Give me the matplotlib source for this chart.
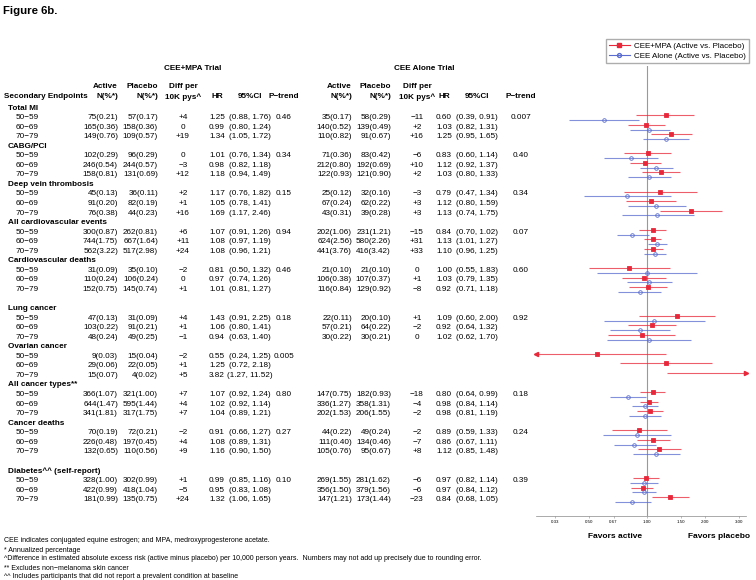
import matplotlib
matplotlib.use("Agg")
import matplotlib.pyplot as plt
import numpy as np
from matplotlib.lines import Line2D

plt.rcParams['font.family'] = ['Liberation Sans', 'DejaVu Sans']

# ---------------- data ----------------
endpoints = ["Total MI", "CABG/PCI", "Deep vein thrombosis", "All cardiovascular events",
             "Cardiovascular deaths", "Lung cancer", "Ovarian cancer", "All cancer types**",
             "Cancer deaths", "Diabetes^^ (self-report)"]
gap_before = [False, False, False, False, False, True, False, False, False, True]
age_groups = ["50\u221259", "60\u221269", "70\u221279"]

mpa_active = [["75(0.21)", "165(0.36)", "149(0.76)"], ["102(0.29)", "246(0.54)", "158(0.81)"],
              ["45(0.13)", "91(0.20)", "76(0.38)"], ["300(0.87)", "744(1.75)", "562(3.22)"],
              ["31(0.09)", "110(0.24)", "152(0.75)"], ["47(0.13)", "103(0.22)", "48(0.24)"],
              ["9(0.03)", "29(0.06)", "15(0.07)"], ["366(1.07)", "644(1.47)", "341(1.81)"],
              ["70(0.19)", "226(0.48)", "132(0.65)"], ["328(1.00)", "422(0.99)", "181(0.99)"]]
mpa_placebo = [["57(0.17)", "158(0.36)", "109(0.57)"], ["96(0.29)", "244(0.57)", "131(0.69)"],
               ["36(0.11)", "82(0.19)", "44(0.23)"], ["262(0.81)", "667(1.64)", "517(2.98)"],
               ["35(0.10)", "106(0.24)", "145(0.74)"], ["31(0.09)", "91(0.21)", "49(0.25)"],
               ["15(0.04)", "22(0.05)", "4(0.02)"], ["321(1.00)", "595(1.44)", "317(1.75)"],
               ["72(0.21)", "197(0.45)", "110(0.56)"], ["302(0.99)", "418(1.04)", "135(0.75)"]]
mpa_diff = [["+4", "0", "+19"], ["0", "\u22123", "+12"], ["+2", "+1", "+16"], ["+6", "+11", "+24"],
            ["\u22122", "0", "+1"], ["+4", "+1", "\u22121"], ["\u22122", "+1", "+5"], ["+7", "+4", "+7"],
            ["\u22122", "+4", "+9"], ["+1", "\u22125", "+24"]]
mpa_hr = [[1.25, 0.99, 1.34], [1.01, 0.98, 1.18], [1.17, 1.05, 1.69], [1.07, 1.08, 1.08],
          [0.81, 0.97, 1.01], [1.43, 1.06, 0.94], [0.55, 1.25, 3.82], [1.07, 1.02, 1.04],
          [0.91, 1.08, 1.16], [0.99, 0.95, 1.32]]
mpa_lo = [[0.88, 0.80, 1.05], [0.76, 0.82, 0.94], [0.76, 0.78, 1.17], [0.91, 0.97, 0.96],
          [0.50, 0.74, 0.81], [0.91, 0.80, 0.63], [0.24, 0.72, 1.27], [0.92, 0.92, 0.89],
          [0.66, 0.89, 0.90], [0.85, 0.83, 1.06]]
mpa_hi = [[1.76, 1.24, 1.72], [1.34, 1.18, 1.49], [1.82, 1.41, 2.46], [1.26, 1.19, 1.21],
          [1.32, 1.26, 1.27], [2.25, 1.41, 1.40], [1.25, 2.18, 11.52], [1.24, 1.14, 1.21],
          [1.27, 1.31, 1.50], [1.16, 1.08, 1.65]]
mpa_p = ["0.46", "0.34", "0.15", "0.94", "0.46", "0.18", "0.005", "0.80", "0.27", "0.10"]

cee_active = [["35(0.17)", "140(0.52)", "110(0.82)"], ["71(0.36)", "212(0.80)", "122(0.93)"],
              ["25(0.12)", "67(0.24)", "43(0.31)"], ["202(1.06)", "624(2.56)", "441(3.76)"],
              ["21(0.10)", "106(0.38)", "116(0.84)"], ["22(0.11)", "57(0.21)", "30(0.22)"],
              None, ["147(0.75)", "336(1.27)", "202(1.53)"],
              ["44(0.22)", "111(0.40)", "105(0.76)"], ["269(1.55)", "356(1.50)", "147(1.21)"]]
cee_placebo = [["58(0.29)", "139(0.49)", "91(0.67)"], ["83(0.42)", "192(0.69)", "121(0.90)"],
               ["32(0.16)", "62(0.22)", "39(0.28)"], ["231(1.21)", "580(2.26)", "416(3.42)"],
               ["21(0.10)", "107(0.37)", "129(0.92)"], ["20(0.10)", "64(0.22)", "30(0.21)"],
               None, ["182(0.93)", "358(1.31)", "206(1.55)"],
               ["49(0.24)", "134(0.46)", "95(0.67)"], ["281(1.62)", "379(1.56)", "173(1.44)"]]
cee_diff = [["\u221211", "+2", "+16"], ["\u22126", "+10", "+2"], ["\u22123", "+3", "+3"],
            ["\u221215", "+31", "+33"], ["0", "+1", "\u22128"], ["+1", "\u22122", "0"], None,
            ["\u221218", "\u22124", "\u22122"], ["\u22122", "\u22127", "+8"], ["\u22126", "\u22126", "\u221223"]]
cee_hr = [[0.60, 1.03, 1.25], [0.83, 1.12, 1.03], [0.79, 1.12, 1.13], [0.84, 1.13, 1.10],
          [1.00, 1.03, 0.92], [1.09, 0.92, 1.02], None, [0.80, 0.98, 0.98],
          [0.89, 0.86, 1.12], [0.97, 0.97, 0.84]]
cee_lo = [[0.39, 0.82, 0.95], [0.60, 0.92, 0.80], [0.47, 0.80, 0.74], [0.70, 1.01, 0.96],
          [0.55, 0.79, 0.71], [0.60, 0.64, 0.62], None, [0.64, 0.84, 0.81],
          [0.59, 0.67, 0.85], [0.82, 0.84, 0.68]]
cee_hi = [[0.91, 1.31, 1.65], [1.14, 1.37, 1.33], [1.34, 1.59, 1.75], [1.02, 1.27, 1.25],
          [1.83, 1.35, 1.18], [2.00, 1.32, 1.70], None, [0.99, 1.14, 1.19],
          [1.33, 1.11, 1.48], [1.14, 1.12, 1.05]]
cee_p = ["0.007", "0.40", "0.34", "0.07", "0.60", "0.92", "", "0.18", "0.24", "0.39"]

axis_ticks = [0.33, 0.50, 0.67, 1.00, 1.50, 2.00, 3.00]
axis_tick_labels = ["0.33", "0.50", "0.67", "1.00", "1.50", "2.00", "3.00"]

footnotes = ["CEE indicates conjugated equine estrogen; and MPA, medroxyprogesterone acetate.",
             "* Annualized percentage",
             "^Difference in estimated absolute excess risk (active minus placebo) per 10,000 person years.  Numbers may not add up precisely due to rounding error.",
             "** Excludes non\u2212melanoma skin cancer",
             "^^ Includes participants that did not report a prevalent condition at baseline"]

# ---------------- layout ----------------
W, H = 756, 580
fig = plt.figure(figsize=(W / 100, H / 100), dpi=100)
tax = fig.add_axes([0, 0, 1, 1])
tax.set_xlim(0, W)
tax.set_ylim(H, 0)
tax.axis('off')

FS = 5.85
RED = '#E8283A'
BLUE = '#5A6CD0'

ROW_TOP = 108.0
STEP = 9.55

head_y, age_y = [], []
r = 0
for i in range(len(endpoints)):
    if gap_before[i]:
        r += 1
    head_y.append(ROW_TOP + r * STEP)
    r += 1
    ys = []
    for _ in age_groups:
        ys.append(ROW_TOP + r * STEP)
        r += 1
    age_y.append(ys)

tax.text(3, 11, "Figure 6b.", fontsize=8.2, fontweight='bold', va='center', ha='left')

mpa_cols = dict(act=118, plc=158, diff=183, hr=217, ci=250, p=284, title=193)
cee_cols = dict(act=352, plc=391, diff=417, hr=444, ci=477, p=521, title=424)

h1, h2 = 86, 97
for cols, title in [(mpa_cols, "CEE+MPA Trial"), (cee_cols, "CEE Alone Trial")]:
    tax.text(cols['title'], 69, title, fontsize=FS, fontweight='bold', ha='center', va='center')
    tax.text(cols['act'], h1, "Active", fontsize=FS, fontweight='bold', ha='right', va='center')
    tax.text(cols['act'], h2, "N(%*)", fontsize=FS, fontweight='bold', ha='right', va='center')
    tax.text(cols['plc'], h1, "Placebo", fontsize=FS, fontweight='bold', ha='right', va='center')
    tax.text(cols['plc'], h2, "N(%*)", fontsize=FS, fontweight='bold', ha='right', va='center')
    tax.text(cols['diff'], h1, "Diff per", fontsize=FS, fontweight='bold', ha='center', va='center')
    tax.text(cols['diff'], h2, "10K pys^", fontsize=FS, fontweight='bold', ha='center', va='center')
    tax.text(cols['hr'], h2, "HR", fontsize=FS, fontweight='bold', ha='center', va='center')
    tax.text(cols['ci'], h2, "95%CI", fontsize=FS, fontweight='bold', ha='center', va='center')
    tax.text(cols['p'], h2, "P\u2212trend", fontsize=FS, fontweight='bold', ha='center', va='center')
tax.text(4, h2, "Secondary Endpoints", fontsize=FS, fontweight='bold', ha='left', va='center')

for i, name in enumerate(endpoints):
    tax.text(8, head_y[i], name, fontsize=FS, fontweight='bold', ha='left', va='center')
    for j, age in enumerate(age_groups):
        y = age_y[i][j]
        tax.text(16, y, age, fontsize=FS, ha='left', va='center')
        tax.text(mpa_cols['act'], y, mpa_active[i][j], fontsize=FS, ha='right', va='center')
        tax.text(mpa_cols['plc'], y, mpa_placebo[i][j], fontsize=FS, ha='right', va='center')
        tax.text(mpa_cols['diff'], y, mpa_diff[i][j], fontsize=FS, ha='center', va='center')
        tax.text(mpa_cols['hr'], y, f"{mpa_hr[i][j]:.2f}", fontsize=FS, ha='center', va='center')
        tax.text(mpa_cols['ci'], y, f"({mpa_lo[i][j]:.2f}, {mpa_hi[i][j]:.2f})", fontsize=FS, ha='center', va='center')
        if cee_active[i] is not None:
            tax.text(cee_cols['act'], y, cee_active[i][j], fontsize=FS, ha='right', va='center')
            tax.text(cee_cols['plc'], y, cee_placebo[i][j], fontsize=FS, ha='right', va='center')
            tax.text(cee_cols['diff'], y, cee_diff[i][j], fontsize=FS, ha='center', va='center')
            tax.text(cee_cols['hr'], y, f"{cee_hr[i][j]:.2f}", fontsize=FS, ha='center', va='center')
            tax.text(cee_cols['ci'], y, f"({cee_lo[i][j]:.2f}, {cee_hi[i][j]:.2f})", fontsize=FS, ha='center', va='center')
    tax.text(mpa_cols['p'], age_y[i][0], mpa_p[i], fontsize=FS, ha='center', va='center')
    if cee_p[i]:
        tax.text(cee_cols['p'], age_y[i][0], cee_p[i], fontsize=FS, ha='center', va='center')

for k, line in enumerate(footnotes):
    tax.text(4, 541 + k * 9, line, fontsize=5.0, ha='left', va='center')

# ---------------- forest plot ----------------
FX0, FX1 = 536, 746
FY0, FY1 = 66, 516
fax = fig.add_axes([FX0 / W, 1 - FY1 / H, (FX1 - FX0) / W, (FY1 - FY0) / H])
fax.set_xscale('log')
XMIN, XMAX = 0.264, 3.28
fax.set_xlim(XMIN, XMAX)
fax.set_ylim(FY1, FY0)
fax.patch.set_alpha(0)
for s in ['top', 'right', 'left']:
    fax.spines[s].set_visible(False)
fax.spines['bottom'].set_color('#888888')
fax.spines['bottom'].set_linewidth(0.5)
fax.set_yticks([])
fax.xaxis.set_minor_locator(matplotlib.ticker.NullLocator())
fax.set_xticks(axis_ticks)
fax.set_xticklabels(axis_tick_labels)
fax.tick_params(axis='x', labelsize=3.2, length=1.5, width=0.4, color='#888888', pad=1.5)
fax.axvline(1.0, color='#999999', lw=0.8, zorder=1)

OFF = 2.4


def draw_ci(hr, lo, hi, y, color, marker, mfc):
    lo_c = max(lo, XMIN)
    hi_c = min(hi, XMAX)
    fax.plot([lo_c, hi_c], [y, y], color=color, lw=0.8, alpha=0.75, zorder=2,
             solid_capstyle='butt')
    if lo < XMIN:
        fax.plot([XMIN], [y], marker='<', color=color, markersize=3, zorder=3, clip_on=False)
    if hi > XMAX:
        fax.plot([XMAX], [y], marker='>', color=color, markersize=3, zorder=3, clip_on=False)
    if XMIN <= hr <= XMAX:
        fax.plot([hr], [y], marker=marker, color=color, mfc=mfc, markersize=2.6,
                 markeredgewidth=0.6, linestyle='none', zorder=4)


for i in range(len(endpoints)):
    for j in range(3):
        y = age_y[i][j]
        draw_ci(mpa_hr[i][j], mpa_lo[i][j], mpa_hi[i][j], y - OFF, RED, 's', RED)
        if cee_hr[i] is not None:
            draw_ci(cee_hr[i][j], cee_lo[i][j], cee_hi[i][j], y + OFF, BLUE, 'o', 'none')

handles = [Line2D([0], [0], color=RED, lw=0.8, marker='s', markersize=2.6, mfc=RED),
           Line2D([0], [0], color=BLUE, lw=0.8, marker='o', markersize=2.8, mfc='none')]
fig.legend(handles, ["CEE+MPA (Active vs. Placebo)", "CEE Alone (Active vs. Placebo)"],
           loc='upper right', bbox_to_anchor=(753 / W, 1 - 35 / H), fontsize=5.8,
           frameon=True, edgecolor='#999999', fancybox=False, handlelength=2.6,
           borderpad=0.4, labelspacing=0.3, handletextpad=0.5)

tax.text(615, 536, "Favors active", fontsize=6.0, fontweight='bold', ha='center', va='center')
tax.text(719, 536, "Favors placebo", fontsize=6.0, fontweight='bold', ha='center', va='center')

fig.savefig("out.png", dpi=100)
